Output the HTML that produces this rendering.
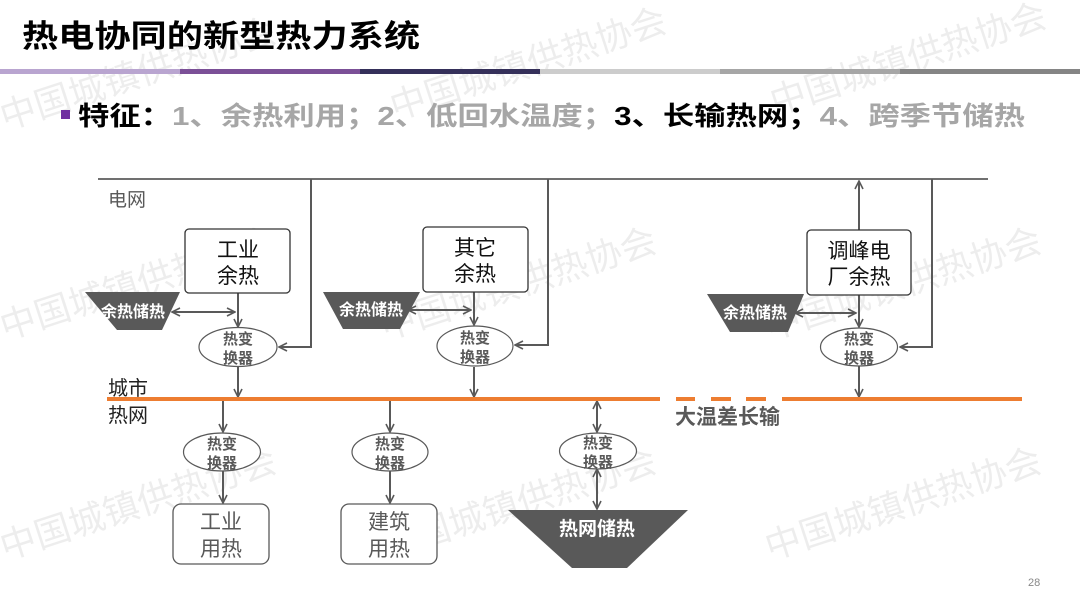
<!DOCTYPE html>
<html><head><meta charset="utf-8"><style>
html,body{margin:0;padding:0;background:#fff;}
svg{display:block;}
text{font-family:"Liberation Sans","Noto Sans CJK SC",sans-serif;}
</style></head><body>
<svg width="1080" height="608" viewBox="0 0 1080 608" xmlns="http://www.w3.org/2000/svg">
<defs>
<marker id="a" viewBox="0 0 10 10" refX="9" refY="5" markerWidth="10" markerHeight="10" orient="auto-start-reverse" markerUnits="userSpaceOnUse">
<path d="M1,1 L9,5 L1,9" fill="none" stroke="#595959" stroke-width="1.6"/>
</marker>
</defs>
<rect width="1080" height="608" fill="#fff"/>
<g fill="#000" fill-opacity="0.07" font-size="36">
<text transform="translate(5,130) rotate(-18)">中国城镇供热协会</text>
<text transform="translate(395,120) rotate(-18)">中国城镇供热协会</text>
<text transform="translate(775,115) rotate(-18)">中国城镇供热协会</text>
<text transform="translate(5,340) rotate(-18)">中国城镇供热协会</text>
<text transform="translate(385,340) rotate(-18)">中国城镇供热协会</text>
<text transform="translate(770,340) rotate(-18)">中国城镇供热协会</text>
<text transform="translate(5,560) rotate(-18)">中国城镇供热协会</text>
<text transform="translate(385,560) rotate(-18)">中国城镇供热协会</text>
<text transform="translate(770,560) rotate(-18)">中国城镇供热协会</text>
</g>
<text x="22" y="47" font-size="31" font-weight="bold" fill="#000" textLength="398" lengthAdjust="spacingAndGlyphs">热电协同的新型热力系统</text>
<rect x="0" y="69" width="180" height="5" fill="#b9a5d0"/>
<rect x="180" y="69" width="180" height="5" fill="#7b5097"/>
<rect x="360" y="69" width="180" height="5" fill="#35305a"/>
<rect x="540" y="69" width="180" height="5" fill="#cccccc"/>
<rect x="720" y="69" width="180" height="5" fill="#a6a6a6"/>
<rect x="900" y="69" width="180" height="5" fill="#858585"/>
<rect x="61" y="110" width="9" height="9" fill="#7030a0"/>
<text x="78" y="125" font-size="26" font-weight="bold" textLength="947" lengthAdjust="spacingAndGlyphs"><tspan fill="#000">特征：</tspan><tspan fill="#a6a6a6">1、余热利用；2、低回水温度；</tspan><tspan fill="#000">3、长输热网；</tspan><tspan fill="#a6a6a6">4、跨季节储热</tspan></text>

<line x1="98" y1="179" x2="988" y2="179" stroke="#707070" stroke-width="2"/>
<text x="108" y="206" font-size="19" fill="#595959">电网</text>
<text x="108" y="395" font-size="20" fill="#222">城市</text>
<text x="108" y="422" font-size="20" fill="#222">热网</text>

<g stroke="#595959" stroke-width="2" fill="none">
<polyline points="311,179 311,347 279,347" marker-end="url(#a)"/>
<line x1="238" y1="293" x2="238" y2="327" marker-end="url(#a)"/>
<line x1="172" y1="312" x2="235" y2="312" marker-start="url(#a)" marker-end="url(#a)"/>
<line x1="238" y1="367" x2="238" y2="397" marker-end="url(#a)"/>
<polyline points="548,179 548,345 515,345" marker-end="url(#a)"/>
<line x1="474" y1="292" x2="474" y2="325" marker-end="url(#a)"/>
<line x1="408" y1="310" x2="471" y2="310" marker-start="url(#a)" marker-end="url(#a)"/>
<line x1="474" y1="367" x2="474" y2="397" marker-end="url(#a)"/>
<polyline points="932,179 932,347 900,347" marker-end="url(#a)"/>
<line x1="859" y1="230" x2="859" y2="181" marker-end="url(#a)"/>
<line x1="859" y1="295" x2="859" y2="327" marker-end="url(#a)"/>
<line x1="795" y1="313" x2="856" y2="313" marker-start="url(#a)" marker-end="url(#a)"/>
<line x1="859" y1="366" x2="859" y2="397" marker-end="url(#a)"/>
<line x1="223" y1="401" x2="223" y2="432" marker-end="url(#a)"/>
<line x1="223" y1="471" x2="223" y2="503" marker-end="url(#a)"/>
<line x1="390" y1="401" x2="390" y2="432" marker-end="url(#a)"/>
<line x1="390" y1="471" x2="390" y2="503" marker-end="url(#a)"/>
<line x1="597" y1="401" x2="597" y2="432" marker-start="url(#a)" marker-end="url(#a)"/>
<line x1="597" y1="469" x2="597" y2="509" marker-start="url(#a)" marker-end="url(#a)"/>
</g>

<g fill="#ed7d31">
<rect x="107" y="397" width="553" height="4"/>
<rect x="676" y="397" width="19" height="4"/>
<rect x="711" y="397" width="20" height="4"/>
<rect x="746" y="397" width="20" height="4"/>
<rect x="782" y="397" width="240" height="4"/>
</g>
<text x="675" y="424" font-size="21" font-weight="bold" fill="#595959">大温差长输</text>

<g fill="#fff" stroke="#333" stroke-width="1.3">
<rect x="185" y="229" width="105" height="64" rx="4"/>
<rect x="423" y="227" width="105" height="65" rx="4"/>
<rect x="807" y="230" width="104" height="65" rx="4"/>
</g>
<g font-size="21" fill="#111" text-anchor="middle">
<text x="238" y="257">工业</text><text x="238" y="283">余热</text>
<text x="475" y="255">其它</text><text x="475" y="281">余热</text>
<text x="859" y="258">调峰电</text><text x="859" y="284">厂余热</text>
</g>
<g fill="#fff" stroke="#595959" stroke-width="1.3">
<rect x="173" y="504" width="96" height="60" rx="8"/>
<rect x="341" y="504" width="96" height="60" rx="8"/>
</g>
<g font-size="21" fill="#595959" text-anchor="middle">
<text x="221" y="529">工业</text><text x="221" y="556">用热</text>
<text x="389" y="529">建筑</text><text x="389" y="556">用热</text>
</g>

<g fill="#595959">
<polygon points="85,292 180,292 162,330 117,330"/>
<polygon points="323,292 420,292 400,329 343,329"/>
<polygon points="707,294 804,294 788,332 730,332"/>
<polygon points="508,510 688,510 627,568 572,568"/>
</g>
<g font-size="16" font-weight="bold" fill="#fff" text-anchor="middle">
<text x="133" y="317">余热储热</text>
<text x="371" y="315">余热储热</text>
<text x="755" y="318">余热储热</text>
<text x="597" y="535" font-size="19">热网储热</text>
</g>

<g fill="#fff" stroke="#595959" stroke-width="1.2">
<ellipse cx="238" cy="347" rx="39" ry="19.5"/>
<ellipse cx="475" cy="346" rx="38" ry="20"/>
<ellipse cx="859" cy="347" rx="38.5" ry="19"/>
<ellipse cx="222" cy="452" rx="38.5" ry="19"/>
<ellipse cx="390" cy="452" rx="38" ry="19"/>
<ellipse cx="598" cy="451" rx="38.5" ry="18"/>
</g>
<g font-size="15" font-weight="bold" fill="#595959" text-anchor="middle">
<text x="238" y="344">热变</text><text x="238" y="363">换器</text>
<text x="475" y="343">热变</text><text x="475" y="362">换器</text>
<text x="859" y="344">热变</text><text x="859" y="363">换器</text>
<text x="222" y="449">热变</text><text x="222" y="468">换器</text>
<text x="390" y="449">热变</text><text x="390" y="468">换器</text>
<text x="598" y="448">热变</text><text x="598" y="467">换器</text>
</g>

<text x="1028" y="586" font-size="11" fill="#888">28</text>
</svg>
</body></html>
